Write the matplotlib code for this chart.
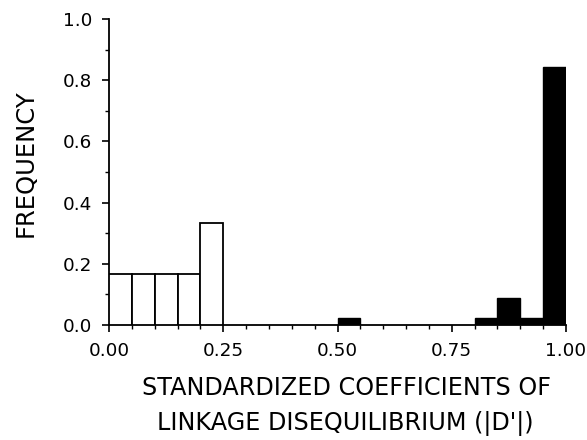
import matplotlib
matplotlib.use("Agg")
import matplotlib.pyplot as plt
from matplotlib.ticker import MultipleLocator

plt.rcParams["font.family"] = ["DejaVu Sans"]

BIN_WIDTH = 0.05

# open bars (left cluster)
open_left = [0.00, 0.05, 0.10, 0.15, 0.20]
open_freq = [1 / 6, 1 / 6, 1 / 6, 1 / 6, 2 / 6]

# filled bars (right cluster)
filled_left = [0.50, 0.80, 0.85, 0.90, 0.95]
filled_freq = [1 / 45, 1 / 45, 4 / 45, 1 / 45, 38 / 45]

x_ticks = [0.00, 0.25, 0.50, 0.75, 1.00]
x_labels = ["0.00", "0.25", "0.50", "0.75", "1.00"]
y_ticks = [0.0, 0.2, 0.4, 0.6, 0.8, 1.0]
y_labels = ["0.0", "0.2", "0.4", "0.6", "0.8", "1.0"]

fig = plt.figure(figsize=(5.87, 4.40), dpi=100)
ax = fig.add_axes([109 / 587, 1 - 325 / 440, (566 - 109) / 587, (325 - 19) / 440])

ax.bar(open_left, open_freq, width=BIN_WIDTH, align="edge",
       facecolor="white", edgecolor="black", linewidth=1.3, zorder=3)
ax.bar(filled_left, filled_freq, width=BIN_WIDTH, align="edge",
       facecolor="black", edgecolor="black", linewidth=1.0, zorder=3)

ax.set_xlim(0, 1.0)
ax.set_ylim(0, 1.0)
ax.spines["top"].set_visible(False)
ax.spines["right"].set_visible(False)
for s in ("left", "bottom"):
    ax.spines[s].set_linewidth(1.3)

ax.set_xticks(x_ticks)
ax.set_xticklabels(x_labels)
ax.set_yticks(y_ticks)
ax.set_yticklabels(y_labels)
ax.xaxis.set_minor_locator(MultipleLocator(0.05))
ax.yaxis.set_minor_locator(MultipleLocator(0.1))
ax.tick_params(which="major", direction="out", length=5, width=1.2,
               labelsize=13.2)
ax.tick_params(axis="x", which="major", pad=7)
ax.tick_params(axis="y", which="major", pad=7)
ax.tick_params(which="minor", direction="out", length=3, width=1.0)

fig.text(26 / 587, 1 - 163 / 440, "FREQUENCY", rotation=90,
         ha="center", va="center", fontsize=17.5)
fig.text(346 / 587, 1 - 388 / 440, "STANDARDIZED COEFFICIENTS OF",
         ha="center", va="center", fontsize=17.2)
fig.text(345 / 587, 1 - 423 / 440, "LINKAGE DISEQUILIBRIUM (|D'|)",
         ha="center", va="center", fontsize=17.2)

fig.savefig("out.png", dpi=100)
